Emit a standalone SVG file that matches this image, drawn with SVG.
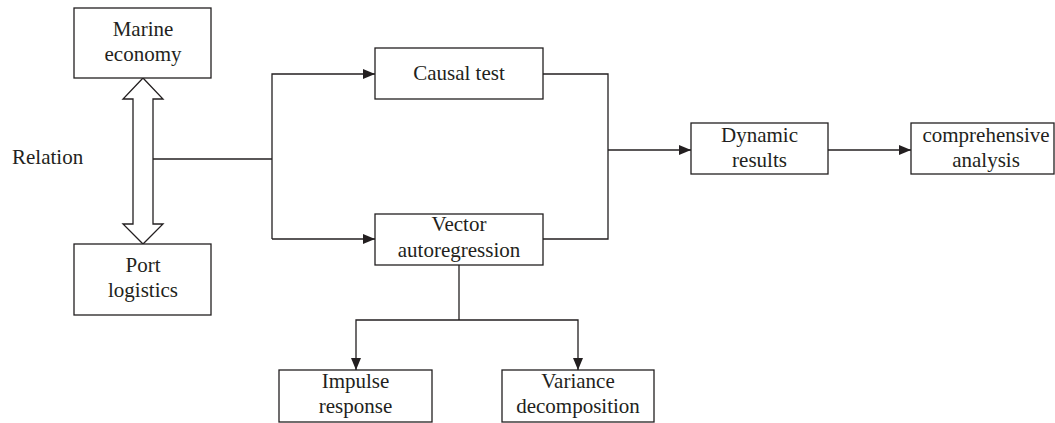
<svg xmlns="http://www.w3.org/2000/svg" width="1055" height="423" viewBox="0 0 1055 423">
<style>
.box{fill:#fff;stroke:#231f20;stroke-width:1.3}
.ln{fill:none;stroke:#231f20;stroke-width:1.3}
text{font-family:"Liberation Serif","Times New Roman",serif;font-size:21px;fill:#231f20;text-anchor:middle}
</style>
<defs>
<marker id="ah" markerWidth="12" markerHeight="10" refX="12" refY="5" orient="auto" markerUnits="userSpaceOnUse">
<path d="M0,0 L12,5 L0,10 Z" fill="#231f20"/>
</marker>
</defs>
<rect width="1055" height="423" fill="#fff"/>
<g id="connectors">
<polygon class="box" points="143,78 163,99 153,99 153,224 163,224 143,244 123,224 133,224 133,99 123,99"/>
<path class="ln" d="M153,159 H272"/>
<path class="ln" d="M272,239 V74 H375" marker-end="url(#ah)"/>
<path class="ln" d="M272,239 H375" marker-end="url(#ah)"/>
<path class="ln" d="M543,74 H608 V239 H543"/>
<path class="ln" d="M608,150 H691" marker-end="url(#ah)"/>
<path class="ln" d="M828,150 H911" marker-end="url(#ah)"/>
<path class="ln" d="M459,265 V320"/>
<path class="ln" d="M459,320 H356 V370" marker-end="url(#ah)"/>
<path class="ln" d="M459,320 H578 V370" marker-end="url(#ah)"/>
</g>
<g id="relation"><text x="12" y="164" style="text-anchor:start">Relation</text></g>
<g id="marine"><rect class="box" x="74" y="8" width="137" height="70"/><text x="143" y="36">Marine</text><text x="143" y="61">economy</text></g>
<g id="port"><rect class="box" x="74" y="244" width="137" height="71"/><text x="143" y="272">Port</text><text x="143" y="297">logistics</text></g>
<g id="causal"><rect class="box" x="375" y="48" width="168" height="51"/><text x="459" y="80">Causal test</text></g>
<g id="var"><rect class="box" x="375" y="214" width="168" height="51"/><text x="459" y="231">Vector</text><text x="459" y="257">autoregression</text></g>
<g id="dynamic"><rect class="box" x="691" y="123" width="137" height="51"/><text x="759.5" y="142">Dynamic</text><text x="759.5" y="167">results</text></g>
<g id="comprehensive"><rect class="box" x="911" y="123" width="143" height="51"/><text x="986" y="142">comprehensive</text><text x="986" y="167">analysis</text></g>
<g id="impulse"><rect class="box" x="279" y="370" width="153" height="52"/><text x="355.5" y="388">Impulse</text><text x="355.5" y="413">response</text></g>
<g id="variance"><rect class="box" x="502" y="370" width="152" height="52"/><text x="578" y="388">Variance</text><text x="578" y="413">decomposition</text></g>
</svg>
